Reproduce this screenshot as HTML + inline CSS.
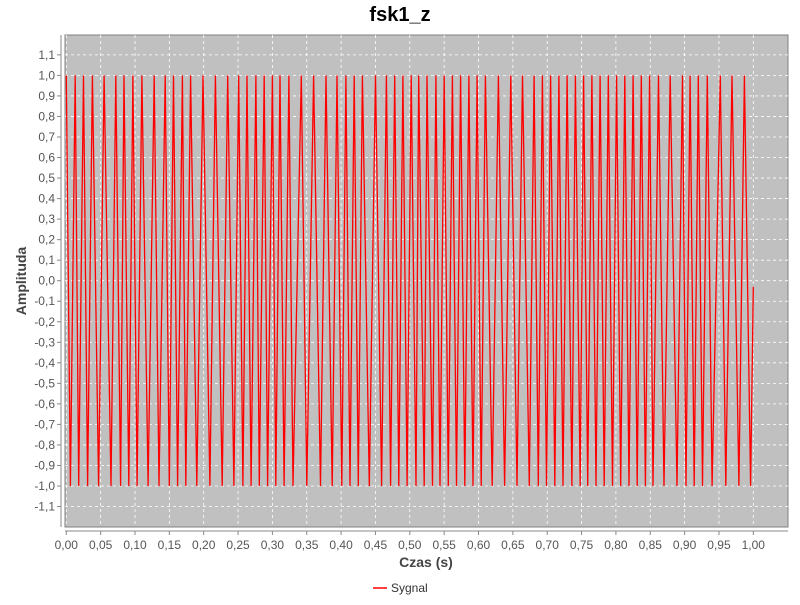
<!DOCTYPE html>
<html><head><meta charset="utf-8"><style>
body{margin:0;background:#fff;}
svg{font-family:"Liberation Sans","DejaVu Sans",sans-serif;}
</style></head><body>
<svg width="800" height="600" xmlns="http://www.w3.org/2000/svg">
<text x="400" y="21" text-anchor="middle" font-size="20" font-weight="bold" fill="#000">fsk1_z</text>
<rect x="65" y="35" width="723" height="492" fill="#c0c0c0" stroke="#808080" stroke-width="1"/>
<g id="grid"></g>
<g id="axes"></g>
<g id="series"></g>
<text x="426" y="567" text-anchor="middle" font-size="14" font-weight="bold" fill="#444">Czas (s)</text>
<text transform="translate(26,281) rotate(-90)" text-anchor="middle" font-size="14" font-weight="bold" fill="#444">Amplituda</text>
<g>
<line x1="373" y1="588" x2="387" y2="588" stroke="#ff0000" stroke-width="1.5"/>
<text x="391" y="592" font-size="12" fill="#333">Sygnal</text>
</g>
</svg>
<script>
const peakTimes=[0.000,0.013,0.025,0.038,0.055,0.072,0.084,0.097,0.110,0.128,0.144,0.156,0.169,0.181,0.199,0.217,0.235,0.251,0.263,0.276,0.288,0.300,0.311,0.324,0.342,0.360,0.378,0.394,0.407,0.419,0.431,0.450,0.466,0.478,0.490,0.502,0.513,0.525,0.538,0.550,0.562,0.574,0.586,0.598,0.610,0.629,0.647,0.664,0.681,0.693,0.705,0.717,0.729,0.741,0.753,0.765,0.777,0.789,0.801,0.813,0.825,0.837,0.849,0.862,0.879,0.897,0.908,0.920,0.933,0.952,0.969,0.987];
const troughTimes=[0.006,0.018,0.031,0.047,0.065,0.079,0.091,0.103,0.119,0.135,0.150,0.162,0.174,0.190,0.209,0.227,0.244,0.257,0.269,0.281,0.293,0.305,0.317,0.330,0.350,0.370,0.387,0.401,0.413,0.425,0.441,0.459,0.472,0.484,0.496,0.509,0.521,0.533,0.544,0.556,0.568,0.580,0.592,0.604,0.620,0.638,0.656,0.674,0.687,0.699,0.711,0.723,0.736,0.748,0.759,0.771,0.783,0.795,0.807,0.819,0.831,0.843,0.854,0.870,0.889,0.902,0.914,0.926,0.940,0.960,0.979,0.996];
const peakValue=1.0;
const troughValue=-1.0;
const endPoint=[1.0,-0.03];
const xTicks=[0,0.05,0.1,0.15,0.2,0.25,0.3,0.35,0.4,0.45,0.5,0.55,0.6,0.65,0.7,0.75,0.8,0.85,0.9,0.95,1.0];
const yTicks=[-1.1,-1.0,-0.9,-0.8,-0.7,-0.6,-0.5,-0.4,-0.3,-0.2,-0.1,0,0.1,0.2,0.3,0.4,0.5,0.6,0.7,0.8,0.9,1.0,1.1];

const NS="http://www.w3.org/2000/svg";
function X(t){return 66.3+t*687;}
function Y(v){return 280.7-v*205.3;}
function mk(tag,attrs,parent){const e=document.createElementNS(NS,tag);for(const k in attrs)e.setAttribute(k,attrs[k]);parent.appendChild(e);return e;}
const grid=document.getElementById('grid'),axes=document.getElementById('axes'),series=document.getElementById('series');
xTicks.forEach(t=>{
  const g=mk('line',{x1:X(t),x2:X(t),y1:35,y2:527,stroke:'#ffffff','stroke-width':0.8,'stroke-dasharray':'3,3'},grid);
  
  
  mk('line',{x1:X(t),x2:X(t),y1:531,y2:535,stroke:'#888'},axes);
  const tx=mk('text',{x:X(t),y:549,'text-anchor':'middle','font-size':12,fill:'#555'},axes);
  tx.textContent=t.toFixed(2).replace('.',',');
  
  
});
yTicks.forEach(v=>{
  const g=mk('line',{x1:65,x2:788,y1:Y(v),y2:Y(v),stroke:'#ffffff','stroke-width':0.8,'stroke-dasharray':'3,3'},grid);
  
  
  mk('line',{x1:57,x2:61,y1:Y(v),y2:Y(v),stroke:'#888'},axes);
  const tx=mk('text',{x:55,y:Y(v)+4,'text-anchor':'end','font-size':12,fill:'#555'},axes);
  tx.textContent=v.toFixed(1).replace('.',',');
  
  
});
const xa=mk('line',{x1:65,x2:788,y1:531,y2:531,stroke:'#888'},axes);


const ya=mk('line',{x1:61,x2:61,y1:35,y2:527,stroke:'#888'},axes);


const pts=[];
peakTimes.forEach(t=>pts.push([t,peakValue]));
troughTimes.forEach(t=>pts.push([t,troughValue]));
pts.sort((a,b)=>a[0]-b[0]);
pts.push(endPoint);
const d=pts.map((p,i)=>(i?'L':'M')+X(p[0]).toFixed(1)+' '+Y(p[1]).toFixed(1)).join(' ');
const path=mk('path',{d:d,fill:'none',stroke:'#ff0000','stroke-width':1.3,'stroke-linejoin':'miter'},series);


</script>
</body></html>
